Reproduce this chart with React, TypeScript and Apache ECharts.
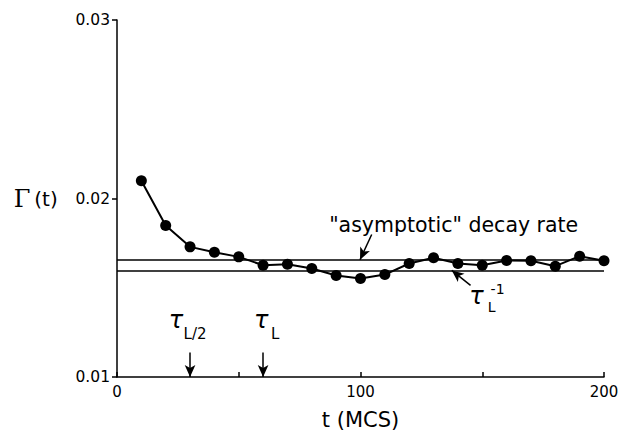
import React, { useEffect, useRef } from "react";
import * as echarts from "echarts";

// Monte Carlo time (MCS) and measured decay rate Γ(t)
const tValues = [10, 20, 30, 40, 50, 60, 70, 80, 90, 100, 110, 120, 130, 140, 150, 160, 170, 180, 190, 200];
const gammaValues = [
  0.0210, 0.01849, 0.01729, 0.01699, 0.01673, 0.01626, 0.01632, 0.01608, 0.01569, 0.01552,
  0.01574, 0.01636, 0.01668, 0.01636, 0.01626, 0.01653, 0.01651, 0.01621, 0.01677, 0.01651,
];

// Reference levels
const asymptoticRate = 0.01657;
const inverseTauL = 0.01597;

// Axis ranges
const tMin = 0;
const tMax = 200;
const tStep = 50;
const tLabelValues = [0, 100, 200];
const gammaMin = 0.01;
const gammaMax = 0.03;
const gammaStep = 0.01;

// Characteristic times marked on the time axis
const tauHalfL = 30;
const tauL = 60;
const tauArrowTop = 0.01137;

// Annotation arrows: [tail, head] in data coordinates
const asymptoticArrow = [[104.6, 0.01798], [99.8, asymptoticRate]];
const inverseTauArrow = [[145.2, 0.01513], [137.5, inverseTauL]];

const FONT = "DejaVu Sans";

export default function App() {
  const ref = useRef<HTMLDivElement>(null);

  useEffect(() => {
    if (!ref.current) return;
    const chart = echarts.init(ref.current, undefined, { renderer: "svg" });

    const lineStyleBlack = { color: "#000", width: 1.5, type: "solid" as const };
    const arrow = (from: number[], to: number[]) => [
      { coord: from, symbol: "none" },
      { coord: to, symbol: "arrow", symbolSize: [8, 12] },
    ];

    chart.setOption({
      animation: false,
      backgroundColor: "#fff",
      grid: { left: 117, right: 18, top: 20, bottom: 53, containLabel: false, outerBoundsMode: "none" },
      xAxis: {
        type: "value",
        min: tMin,
        max: tMax,
        interval: tStep,
        name: "t (MCS)",
        nameLocation: "middle",
        nameGap: 32,
        nameTextStyle: { fontFamily: FONT, fontSize: 21, color: "#000" },
        axisLine: { lineStyle: { color: "#000", width: 1.5 } },
        axisTick: { inside: true, length: 5, lineStyle: { color: "#000", width: 1.5 } },
        axisLabel: {
          fontFamily: FONT,
          fontSize: 15,
          color: "#000",
          margin: 7,
          formatter: (v: number) => (tLabelValues.includes(v) ? String(v) : ""),
        },
        splitLine: { show: false },
      },
      yAxis: {
        type: "value",
        min: gammaMin,
        max: gammaMax,
        interval: gammaStep,
        axisLine: { show: true, lineStyle: { color: "#000", width: 1.5 } },
        axisTick: { show: true, length: 5, lineStyle: { color: "#000", width: 1.5 } },
        axisLabel: {
          fontFamily: FONT,
          fontSize: 15.5,
          color: "#000",
          margin: 7,
          formatter: (v: number) => v.toFixed(2),
        },
        splitLine: { show: false },
      },
      series: [
        {
          type: "line",
          data: tValues.map((t, i) => [t, gammaValues[i]]),
          symbol: "circle",
          symbolSize: 11,
          itemStyle: { color: "#000" },
          lineStyle: { color: "#000", width: 2 },
          z: 5,
          markLine: {
            silent: true,
            symbol: ["none", "none"],
            label: { show: false },
            lineStyle: lineStyleBlack,
            data: [
              [
                { coord: [tMin, asymptoticRate] },
                { coord: [tMax, asymptoticRate] },
              ],
              [
                { coord: [tMin, inverseTauL] },
                { coord: [tMax, inverseTauL] },
              ],
              arrow(asymptoticArrow[0], asymptoticArrow[1]),
              arrow(inverseTauArrow[0], inverseTauArrow[1]),
              arrow([tauHalfL, tauArrowTop], [tauHalfL, gammaMin]),
              arrow([tauL, tauArrowTop], [tauL, gammaMin]),
            ],
          },
        },
      ],
    });

    const px = (x: number, y: number) => chart.convertToPixel({ gridIndex: 0 }, [x, y]) as number[];
    const txt = (x: number, y: number, text: string, size: number, extra: any = {}) => ({
      type: "text",
      x,
      y,
      style: {
        text,
        fontFamily: FONT,
        fontSize: size,
        fill: "#000",
        align: "center",
        verticalAlign: "middle",
        ...extra,
      },
    });
    const tau = { fontStyle: "italic" };

    const half = px(tauHalfL, tauArrowTop);
    const full = px(tauL, tauArrowTop);
    const asym = px(asymptoticArrow[0][0], asymptoticArrow[0][1]);
    const inv = px(inverseTauArrow[0][0], inverseTauArrow[0][1]);
    const g02 = px(tMin, 0.02);

    chart.setOption({
      graphic: [
        // Γ(t) axis title
        txt(22, g02[1], "Γ", 24, { fontFamily: "DejaVu Serif" }),
        txt(46, g02[1], "(t)", 20),
        // τ_{L/2}
        txt(half[0] - 14, half[1] - 33, "τ", 24, tau),
        txt(half[0] + 5, half[1] - 19, "L/2", 15),
        // τ_L
        txt(full[0] - 2, full[1] - 33, "τ", 24, tau),
        txt(full[0] + 12, full[1] - 19, "L", 15),
        // "asymptotic" decay rate
        txt(asym[0] + 82, asym[1] - 10, "\"asymptotic\" decay rate", 20.5),
        // τ_L^{-1}
        txt(inv[0] + 6, inv[1] + 11, "τ", 24, tau),
        txt(inv[0] + 21, inv[1] + 22, "L", 14),
        txt(inv[0] + 27, inv[1] + 4, "-1", 14),
      ],
    });

    return () => chart.dispose();
  }, []);

  return (
    <div
      ref={ref}
      style={{ position: "absolute", left: 0, top: 0, width: 622, height: 430, background: "#fff" }}
    />
  );
}
